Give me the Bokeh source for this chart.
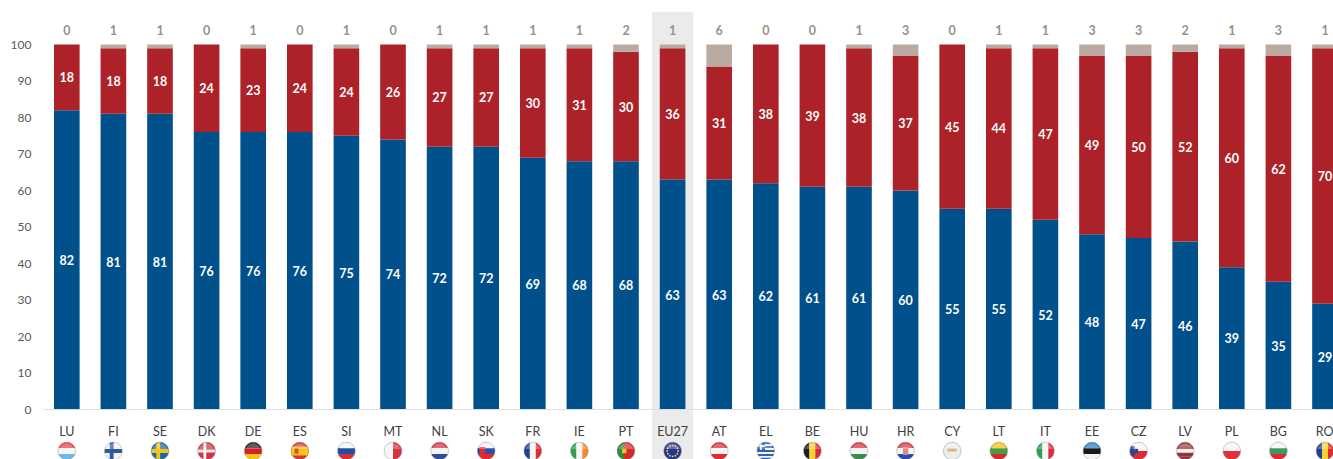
import numpy as np
from bokeh.plotting import figure
from bokeh.models import ColumnDataSource, FixedTicker, LinearAxis, Range1d
from bokeh.core.properties import value
from bokeh.embed import file_html
from bokeh.resources import INLINE

countries = ["LU","FI","SE","DK","DE","ES","SI","MT","NL","SK","FR","IE","PT","EU27","AT","EL","BE","HU","HR","CY","LT","IT","EE","CZ","LV","PL","BG","RO"]
blue_vals = [82,81,81,76,76,76,75,74,72,72,69,68,68,63,63,62,61,61,60,55,55,52,48,47,46,39,35,29]
red_vals  = [18,18,18,24,23,24,24,26,27,27,30,31,30,36,31,38,39,38,37,45,44,47,49,50,52,60,62,70]
grey_vals = [0,1,1,0,1,0,1,0,1,1,1,1,2,1,6,0,0,1,3,0,1,1,3,3,2,1,3,1]
y_ticks = [0,10,20,30,40,50,60,70,80,90,100]

BLUE, RED, GREY = "#00508c", "#ac2228", "#b9aba2"
TXT = "#595959"
FONT = "Lato"

W, H = 1333, 459
LEFT = 43
STEP = 46.6
PX_Y = 3.65
xs = list(range(len(countries)))
b0 = [0]*len(xs)
b1 = blue_vals
r1 = [a+b for a, b in zip(blue_vals, red_vals)]
g1 = [a+b+c for a, b, c in zip(blue_vals, red_vals, grey_vals)]

src = ColumnDataSource(dict(
    x=xs, b0=b0, b1=b1, r1=r1, g1=g1,
    bm=[v/2 for v in blue_vals],
    rm=[a+b/2 for a, b in zip(blue_vals, red_vals)],
    bt=[str(v) for v in blue_vals], rt=[str(v) for v in red_vals], gt=[str(v) for v in grey_vals],
    gy=[103.9]*len(xs),
))

y_lo = -50/PX_Y
y_hi = 409/PX_Y
p = figure(width=W, height=H, output_backend="svg", toolbar_location=None,
           x_range=Range1d(-0.5, -0.5+(W-LEFT)/STEP), y_range=Range1d(y_lo, y_hi),
           min_border_left=LEFT, min_border_right=0, min_border_top=0, min_border_bottom=0,
           outline_line_color=None, x_axis_location=None, y_axis_location=None)
p.grid.visible = False
p.background_fill_color = "white"

# EU27 highlight
eu = countries.index("EU27")
p.quad(left=[eu-0.44], right=[eu+0.44], bottom=[y_lo], top=[109], fill_color="#ebebeb", line_color=None)

BW = 0.55
p.vbar(x="x", bottom="b0", top="b1", width=BW, fill_color=BLUE, line_color=None, source=src)
p.vbar(x="x", bottom="b1", top="r1", width=BW, fill_color=RED, line_color=None, source=src)
p.vbar(x="x", bottom="r1", top="g1", width=BW, fill_color=GREY, line_color=None, source=src)

for yc, tc in (("bm", "bt"), ("rm", "rt")):
    p.text(x="x", y=yc, text=tc, source=src, text_color="white", text_font=value(FONT),
           text_font_style="bold", text_font_size="12.5px", text_align="center", text_baseline="middle")
p.text(x="x", y="gy", text="gt", source=src, text_color="#9a9088", text_font=value(FONT),
       text_font_style="bold", text_font_size="12.5px", text_align="center", text_baseline="middle")

yax = LinearAxis(ticker=FixedTicker(ticks=y_ticks), axis_line_color=None,
                 major_tick_line_color=None, minor_tick_line_color=None,
                 major_tick_out=0, major_tick_in=0,
                 major_label_text_color=TXT, major_label_text_font=FONT,
                 major_label_text_font_size="12px", major_label_standoff=12)
p.add_layout(yax, "left")
xax = LinearAxis(ticker=FixedTicker(ticks=xs), fixed_location=0,
                 major_label_overrides={i: c for i, c in enumerate(countries)},
                 axis_line_color="#dcdfe3", axis_line_width=1,
                 major_tick_line_color=None, minor_tick_line_color=None,
                 major_tick_out=0, major_tick_in=0,
                 major_label_text_color="#404040", major_label_text_font=FONT,
                 major_label_text_font_size="12.5px", major_label_standoff=14)
p.add_layout(xax, "below")

# Flags: unit-circle polygons clipped to rectangles
ang = np.linspace(0, 2*np.pi, 64, endpoint=False)
CIRCLE = list(zip(np.cos(ang), np.sin(ang)))

def clip(poly, x0, x1, y0, y1):
    def cut(pts, inside, inter):
        out = []
        for i, a in enumerate(pts):
            b = pts[(i+1) % len(pts)]
            if inside(a):
                out.append(a)
                if not inside(b):
                    out.append(inter(a, b))
            elif inside(b):
                out.append(inter(a, b))
        return out
    def ix(v):
        return lambda a, b: (v, a[1]+(b[1]-a[1])*(v-a[0])/(b[0]-a[0]))
    def iy(v):
        return lambda a, b: (a[0]+(b[0]-a[0])*(v-a[1])/(b[1]-a[1]), v)
    for ins, f in ((lambda q: q[0] >= x0, ix(x0)), (lambda q: q[0] <= x1, ix(x1)),
                   (lambda q: q[1] >= y0, iy(y0)), (lambda q: q[1] <= y1, iy(y1))):
        if not poly:
            return []
        poly = cut(poly, ins, f)
    return poly

def hs(*c):
    n = len(c)
    return [(-1, 1, 1-2*(i+1)/n, 1-2*i/n, k) for i, k in enumerate(c)]
def vs(*c):
    n = len(c)
    return [(-1+2*i/n, -1+2*(i+1)/n, -1, 1, k) for i, k in enumerate(c)]
def cross(bg, fg, w=0.22, cx=-0.2):
    return [(-1, 1, -1, 1, bg), (-1, 1, -w, w, fg), (cx-w, cx+w, -1, 1, fg)]

flags = {
 "LU": hs("#e8404a", "#f4f4f4", "#6fb7e6"),
 "FI": cross("#f4f4f4", "#2f5a9b"),
 "SE": cross("#1f66a8", "#f0c419"),
 "DK": cross("#d5333f", "#f4f4f4", 0.16),
 "DE": hs("#222222", "#d5202a", "#f5c518"),
 "ES": [(-1, 1, -1, 1, "#d5333f"), (-1, 1, -0.5, 0.5, "#f5c518"), (-0.6, -0.15, -0.3, 0.3, "#c8552a")],
 "SI": hs("#f4f4f4", "#1f4fa3", "#dc2b34"),
 "MT": vs("#f4f4f4", "#d5333f"),
 "NL": hs("#d5333f", "#f4f4f4", "#2c4f94"),
 "SK": hs("#f4f4f4", "#2a4fa8", "#dc2b34") + [(-0.75, -0.1, -0.5, 0.45, "#dc2b34")],
 "FR": vs("#1f3f8f", "#f4f4f4", "#dc2b34"),
 "IE": vs("#2f9e55", "#f4f4f4", "#f08a2c"),
 "PT": [(-1, 1, -1, 1, "#d8282f"), (-1, -0.2, -1, 1, "#2f8a3f"), (-0.45, 0.05, -0.25, 0.25, "#f0c419")],
 "EU27": [(-1, 1, -1, 1, "#26348f")],
 "AT": hs("#dc2b34", "#f4f4f4", "#dc2b34"),
 "EL": hs("#2f62ad", "#f4f4f4", "#2f62ad", "#f4f4f4", "#2f62ad", "#f4f4f4", "#2f62ad", "#f4f4f4", "#2f62ad")
       + [(-1, -0.1, 0.1, 1, "#2f62ad"), (-1, -0.1, 0.45, 0.65, "#f4f4f4"), (-0.65, -0.45, 0.1, 1, "#f4f4f4")],
 "BE": vs("#1c1c1c", "#f5d328", "#dc2b34"),
 "HU": hs("#d8343c", "#f4f4f4", "#3d8a4e"),
 "HR": hs("#d8343c", "#f4f4f4", "#2a4fa8") + [(-0.3, 0.3, -0.45, 0.45, "#d98a8f")],
 "CY": [(-1, 1, -1, 1, "#ececec"), (-0.55, 0.5, -0.05, 0.3, "#d9b67f")],
 "LT": hs("#f2c21a", "#4a9a3f", "#d02c30"),
 "IT": vs("#2f9e55", "#f4f4f4", "#dc2b34"),
 "EE": hs("#2f7fc4", "#1a1a1a", "#f4f4f4"),
 "CZ": hs("#f4f4f4", "#dc2b34") + [(-1, -0.45, -0.55, 0.55, "#22488f"), (-0.45, -0.05, -0.25, 0.25, "#22488f")],
 "LV": hs("#94323c", "#94323c", "#f4f4f4", "#94323c", "#94323c"),
 "PL": hs("#f4f4f4", "#e0303a"),
 "BG": hs("#f4f4f4", "#3f9a62", "#dc2b34"),
 "RO": vs("#1f3f9b", "#f5d328", "#dc2b34"),
}

R = 8.8
FY = (409-450.5)/PX_Y
pxs, pys, pcs = [], [], []
for i, c in enumerate(countries):
    for (x0, x1, y0, y1, col) in flags[c]:
        poly = clip(CIRCLE, x0, x1, y0, y1)
        if poly:
            pxs.append([i + q[0]*R/STEP for q in poly])
            pys.append([FY + q[1]*R/PX_Y for q in poly])
            pcs.append(col)
p.patches(pxs, pys, fill_color=pcs, line_color=None)

# EU stars
sx, sy = [], []
for a in np.linspace(0, 2*np.pi, 12, endpoint=False):
    sx.append(eu + 0.62*R*np.cos(a)/STEP)
    sy.append(FY + 0.62*R*np.sin(a)/PX_Y)
p.scatter(sx, sy, size=1.8, fill_color="#f0d040", line_color=None)

# soft rim and gloss
rim_x = [[i + q[0]*R/STEP for q in CIRCLE] for i in xs]
rim_y = [[FY + q[1]*R/PX_Y for q in CIRCLE] for _ in xs]
p.patches(rim_x, rim_y, fill_color=None, line_color="#9a9a9a", line_alpha=0.5, line_width=1)
gl_poly = clip(CIRCLE, -1, 1, 0.25, 1)
p.patches([[i + q[0]*0.86*R/STEP for q in gl_poly] for i in xs],
          [[FY + q[1]*0.86*R/PX_Y for q in gl_poly] for _ in xs],
          fill_color="white", fill_alpha=0.28, line_color=None)

open("out.html", "w").write(file_html(p, INLINE))
